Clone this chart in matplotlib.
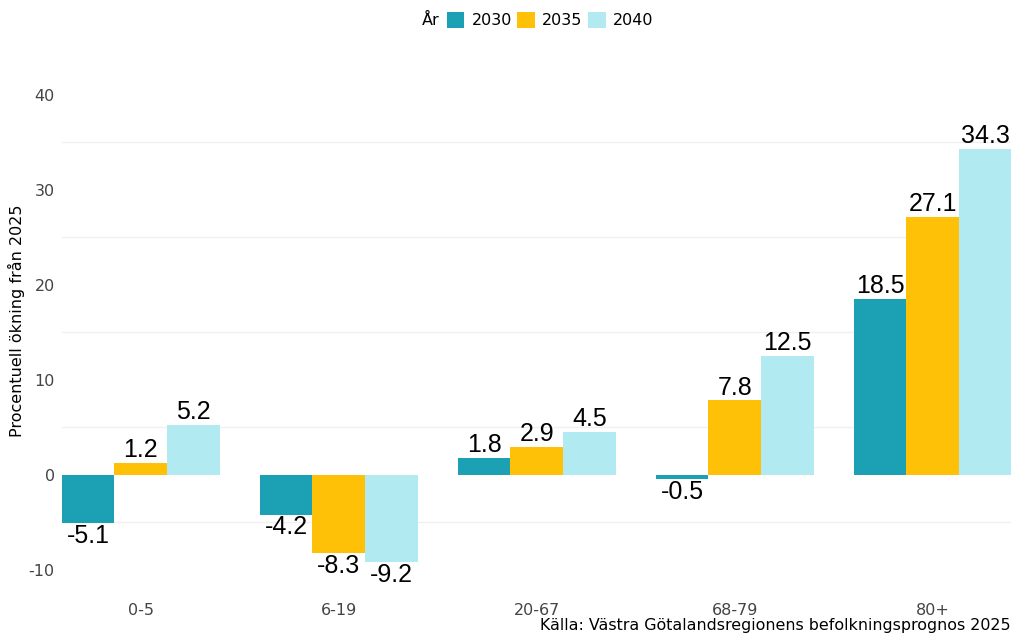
import matplotlib
matplotlib.use("Agg")
import matplotlib.pyplot as plt
from matplotlib.patches import Patch
import numpy as np

# data
age_groups = ["0-5", "6-19", "20-67", "68-79", "80+"]
years = ["2030", "2035", "2040"]
change_2030 = [-5.1, -4.2, 1.8, -0.5, 18.5]
change_2035 = [1.2, -8.3, 2.9, 7.8, 27.1]
change_2040 = [5.2, -9.2, 4.5, 12.5, 34.3]
colors = ["#1ca0b3", "#ffc107", "#b2eaf2"]

plt.rcParams["font.family"] = ["DejaVu Sans"]
plt.rcParams["axes.unicode_minus"] = False

fig = plt.figure(figsize=(10.12, 6.35), dpi=100)
ax = fig.add_axes([0.061, 0.070, 0.939, 0.85])

x = np.arange(len(age_groups))
w = 0.267
series = [change_2030, change_2035, change_2040]
for i, vals in enumerate(series):
    pos = x + (i - 1) * w
    ax.bar(pos, vals, width=w, color=colors[i], zorder=2)
    for xp, v in zip(pos, vals):
        if v >= 0:
            ax.text(xp, v + 0.1, f"{v}", ha="center", va="bottom",
                    fontsize=18, family="Liberation Sans", color="black",
                    zorder=3, clip_on=False)
        else:
            ax.text(xp, v - 0.1, f"{v}", ha="center", va="top",
                    fontsize=18, family="Liberation Sans", color="black",
                    zorder=3, clip_on=False)

ax.set_xlim(-0.4, 4.4)
ax.set_ylim(-12.2, 44.6)
ax.set_yticks([-10, 0, 10, 20, 30, 40])
ax.set_xticks(x)
ax.set_xticklabels(age_groups)
for yv in [-5, 5, 15, 25, 35]:
    ax.axhline(yv, color="#f0f0f0", lw=1, zorder=1)
ax.tick_params(axis="both", length=0, labelsize=11.5, labelcolor="#444444")
ax.tick_params(axis="y", pad=5)
ax.tick_params(axis="x", pad=9)
for s in ax.spines.values():
    s.set_visible(False)

ax.set_ylabel("Procentuell ökning från 2025", fontsize=11.5, color="black")
ax.yaxis.set_label_coords(-0.0385, 0.5)

handles = [Patch(facecolor=c, edgecolor="none") for c in colors]
fig.legend(handles, years, loc="center", bbox_to_anchor=(0.5435, 0.968), ncol=3,
           frameon=False, fontsize=11.5, handlelength=1.1, handleheight=1.1,
           handletextpad=0.45, columnspacing=0.35, borderpad=0)
fig.text(0.417, 0.968, "År", ha="left", va="center", fontsize=11.5, color="black")

fig.text(0.999, 0.003, "Källa: Västra Götalandsregionens befolkningsprognos 2025",
         ha="right", va="bottom", fontsize=11.4, color="black")

fig.savefig("out.png", dpi=100)
